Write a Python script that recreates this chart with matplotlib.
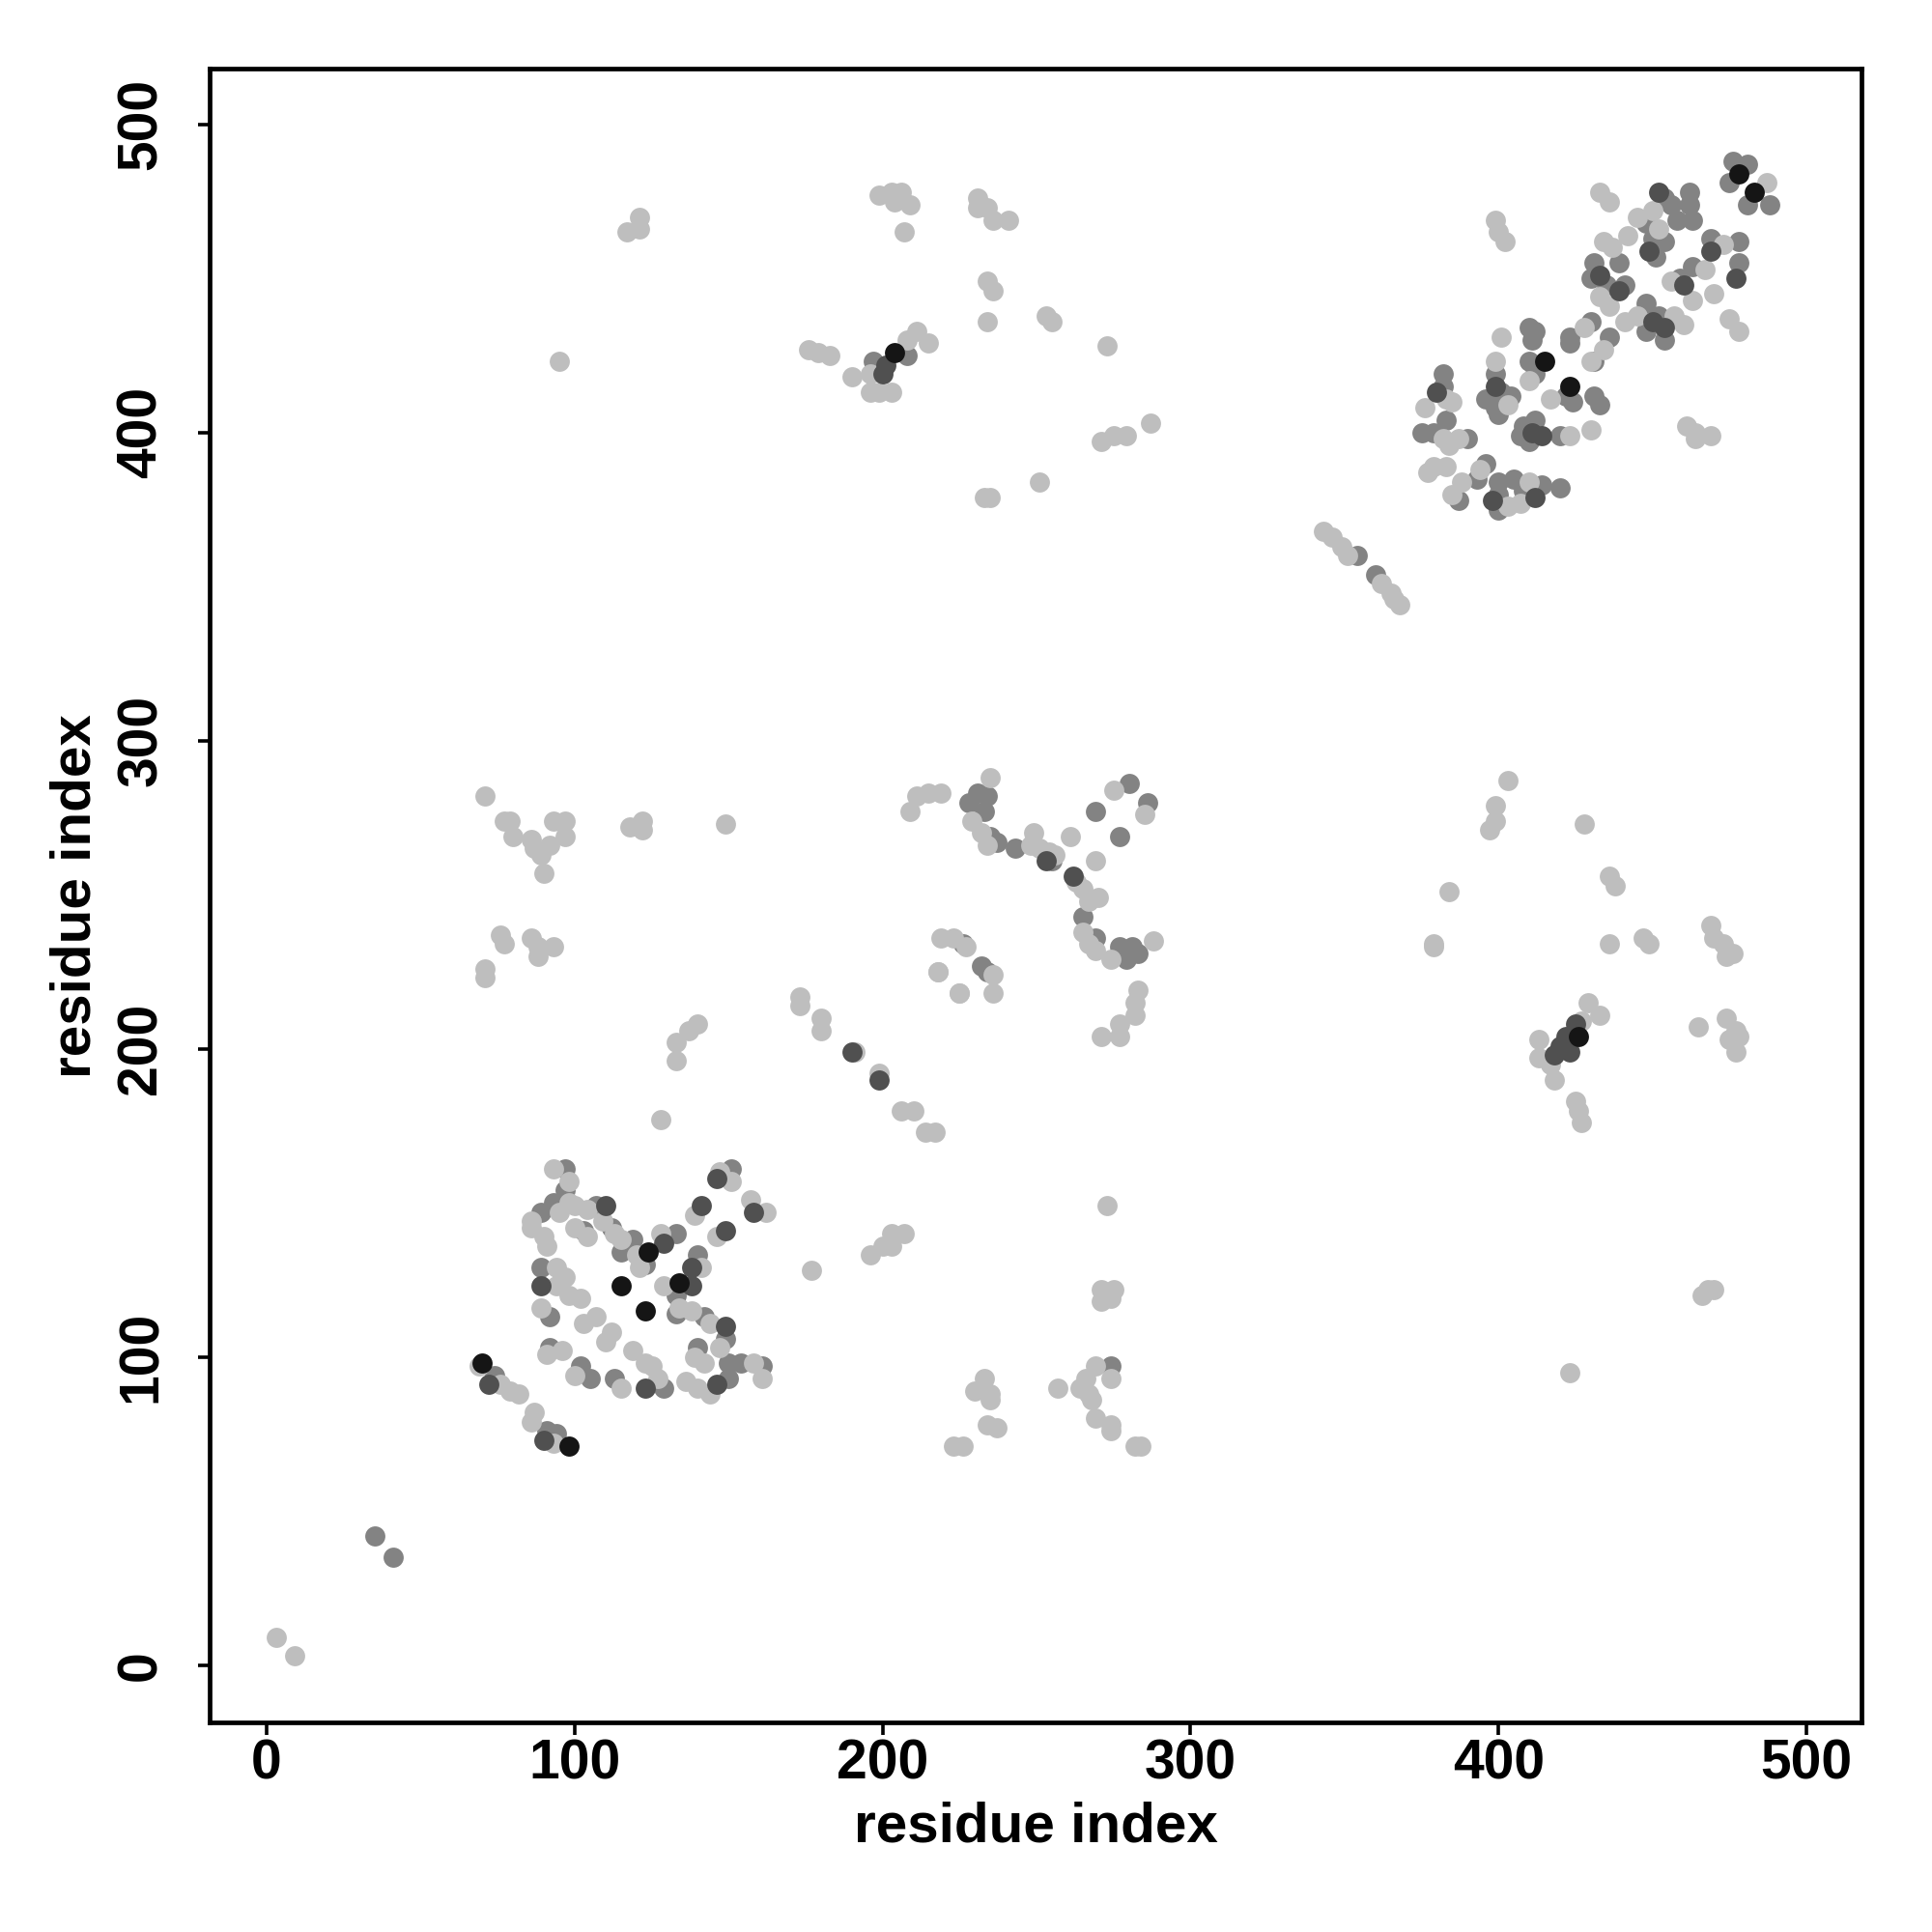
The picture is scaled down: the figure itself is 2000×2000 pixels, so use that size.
import matplotlib
matplotlib.use("Agg")
import matplotlib.pyplot as plt

# contact map points, grouped by grey level
light_pts = [
    # lower-left block
    (93,161),(98,157),(98,150),(86,144),(86,142),(90,139),(91,136),(95,147),(100,149),(104,148),
    (100,142),(104,139),(109,144),(113,140),(115,138),(120,133),(121,129),(128,140),(139,146),(146,139),
    (147,160),(151,157),(157,151),(162,147),(141,129),(129,123),(134,116),(138,115),(144,111),(147,103),
    (139,100),(142,98),(158,98),(161,93),(144,88),(136,92),(140,90),(125,97),(127,93),(119,102),
    (123,98),(115,90),(100,94),(112,108),(110,105),(107,113),(103,111),(91,101),(96,102),(89,116),
    (94,129),(97,126),(94,123),(98,120),(102,119),(69,97),(76,91),(79,89),(82,88),(87,82),(86,79),(93,72),
    # upper-right block
    (487,481),(433,478),(436,475),(450,472),(445,470),(452,466),(442,464),(434,462),(437,460),(433,444),
    (436,441),(473,461),(467,453),(456,449),(470,445),(463,443),(475,437),(478,433),(445,438),(441,436),
    (460,435),(457,438),(428,434),(434,427),(430,423),(401,431),(410,417),(417,411),(430,401),(399,423),
    (403,409),(383,411),(385,410),(376,408),(382,398),(387,398),(384,396),(423,399),(461,402),(464,400),
    (469,399),(464,398),(379,389),(377,387),(383,389),(388,384),(385,380),(394,388),(403,376),(410,384),
    (407,377),(399,469),(400,465),(402,462),
    # diagonal strand
    (343,368),(346,366),(349,363),(351,360),(362,351),(365,348),(366,346),(368,344),
    (287,403),(271,397),(275,399),(279,399),
    # middle block
    (235,288),(229,274),(232,270),(234,266),(249,270),(248,266),(251,265),(254,264),(256,263),(261,269),
    (269,261),(263,254),(265,252),(270,249),(267,248),(265,238),(267,234),(269,232),(274,229),(288,235),
    (275,284),(285,276),(209,277),(211,282),(215,283),(219,283),(219,236),(223,236),(227,233),(218,225),
    (225,218),(236,224),(236,218),(283,219),(282,215),(282,211),(277,208),(271,204),(277,204),
    # right middle
    (403,287),(399,279),(399,274),(397,271),(428,273),(436,256),(438,253),(384,251),(379,234),(379,233),
    (436,234),(447,236),(449,234),(469,240),(470,236),(473,234),(476,231),(474,230),(429,215),(433,211),
    (427,209),(413,203),(413,197),(417,195),(418,190),(425,183),(426,180),(427,176),(465,207),(474,210),
    (477,206),(478,204),(475,203),(477,199),(423,95),(468,122),(466,120),(470,122),
    # top middle
    (199,477),(203,478),(206,478),(204,475),(209,474),(207,465),(231,476),(231,473),(234,473),(236,469),
    (241,469),(234,449),(236,446),(234,436),(253,438),(255,436),(273,428),(211,433),(215,429),(208,430),
    (196,419),(190,418),(196,413),(199,413),(203,413),(176,427),(179,426),(183,425),(251,384),(233,379),
    (235,379),(121,470),(121,466),(117,465),(95,423),
    # left middle
    (71,282),(77,274),(79,274),(80,269),(86,268),(87,265),(89,263),(92,266),(93,274),(97,274),
    (97,269),(90,257),(118,272),(122,274),(122,271),(149,273),(76,237),(77,234),(86,236),(88,233),
    (93,233),(88,230),(71,226),(71,223),
    # lower middle
    (173,217),(173,214),(180,210),(180,206),(191,199),(199,192),(206,180),(210,180),(214,173),(217,173),
    (218,225),(225,218),(273,149),(271,122),(275,122),(271,118),(274,119),(196,133),(200,136),(203,140),
    (207,140),(203,136),(177,128),(233,93),(230,89),(235,88),(235,86),(234,78),(237,77),(223,71),
    (226,71),(257,90),(264,90),(266,93),(269,97),(274,93),(267,88),(268,86),(269,80),(274,78),
    (274,76),(282,71),(284,71),(133,202),(137,206),(140,208),(133,196),(128,177),
    (3,9),(9,3),
]

mid_pts = [
    (97,161),(97,154),(93,150),(89,147),(103,141),(107,149),(112,142),(115,134),(119,138),(123,130),
    (133,140),(151,161),(140,133),(133,120),(133,114),(142,113),(149,106),(140,103),(150,98),(154,98),
    (161,97),(150,93),(129,90),(113,93),(102,97),(105,93),(92,103),(92,113),(89,129),(74,94),(91,76),(94,75),
    (476,488),(481,487),(475,481),(481,474),(488,474),(454,476),(462,478),(462,474),(456,474),(448,468),
    (458,469),(463,469),(450,463),(454,462),(451,457),(431,455),(439,455),(430,450),(435,448),(441,448),
    (469,463),(478,462),(478,455),(463,454),(459,450),(448,442),(452,438),(448,433),(454,430),(430,436),
    (436,431),(423,431),(423,429),(431,423),(410,434),(412,433),(411,430),(410,423),(412,419),(422,412),
    (424,410),(431,412),(433,409),(399,419),(401,413),(404,412),(396,411),(399,408),(400,406),(382,419),
    (382,415),(383,404),(375,400),(379,400),(390,398),(408,402),(412,404),(407,399),(410,397),(420,399),
    (387,378),(396,390),(393,385),(400,384),(400,380),(400,375),(405,385),(408,381),(414,383),(420,382),
    (354,360),(360,354),
    (231,283),(234,282),(228,280),(233,277),(235,269),(237,267),(243,265),(255,261),(265,243),(269,236),
    (277,233),(281,233),(279,229),(283,231),(280,286),(286,280),(269,277),(277,269),(226,234),(232,227),(234,225),
    (208,425),(197,423),(274,97),(35,42),(41,35),
]

dark_pts = [
    (110,149),(129,137),(141,149),(149,141),(138,129),(138,123),(149,110),(146,91),(123,90),(89,123),
    (72,91),(90,73),(146,158),(158,147),
    (452,478),(449,459),(439,446),(469,459),(477,450),(460,448),(454,434),(399,415),(380,413),(411,400),
    (398,378),(412,379),(433,451),(450,436),(414,399),
    (253,261),(262,256),
    (425,208),(422,204),(420,201),(423,199),(418,198),
    (201,422),(200,419),(190,199),(199,190),
]

black_pts = [
    (124,134),(134,124),(115,123),(123,115),(70,98),(98,71),
    (478,484),(483,478),(415,423),(423,415),
    (426,204),(204,426),
]

groups = [
    (mid_pts, "#838383"),
    (light_pts, "#bebebe"),
    (dark_pts, "#505050"),
    (black_pts, "#151515"),
]

plt.rcParams["font.family"] = ["Liberation Sans", "DejaVu Sans"]
plt.rcParams["font.weight"] = "bold"

fig = plt.figure(figsize=(20, 20), dpi=100)
ax = fig.add_axes([0.1084, 0.1085, 0.8553, 0.8558])

for pts, col in groups:
    xs = [p[0] for p in pts]
    ys = [p[1] for p in pts]
    ax.scatter(xs, ys, s=225, c=col, linewidths=0, zorder=3)

ax.set_xlim(-18.6, 518)
ax.set_ylim(-18.6, 518)
ax.set_xticks([0, 100, 200, 300, 400, 500])
ax.set_yticks([0, 100, 200, 300, 400, 500])

for sp in ax.spines.values():
    sp.set_linewidth(3.4)

ax.tick_params(axis="both", direction="out", length=9, width=2.6, labelsize=41)
ax.tick_params(axis="x", pad=3)
ax.tick_params(axis="y", pad=22)
for lab in ax.get_yticklabels():
    lab.set_rotation(90)
    lab.set_va("center")
for lab in ax.get_xticklabels() + ax.get_yticklabels():
    lab.set_fontweight("bold")

ax.set_xlabel("residue index", fontsize=42, fontweight="bold", labelpad=8)
ax.set_ylabel("residue index", fontsize=42, fontweight="bold", labelpad=10)

fig.savefig("out.png", dpi=100, facecolor="white")
